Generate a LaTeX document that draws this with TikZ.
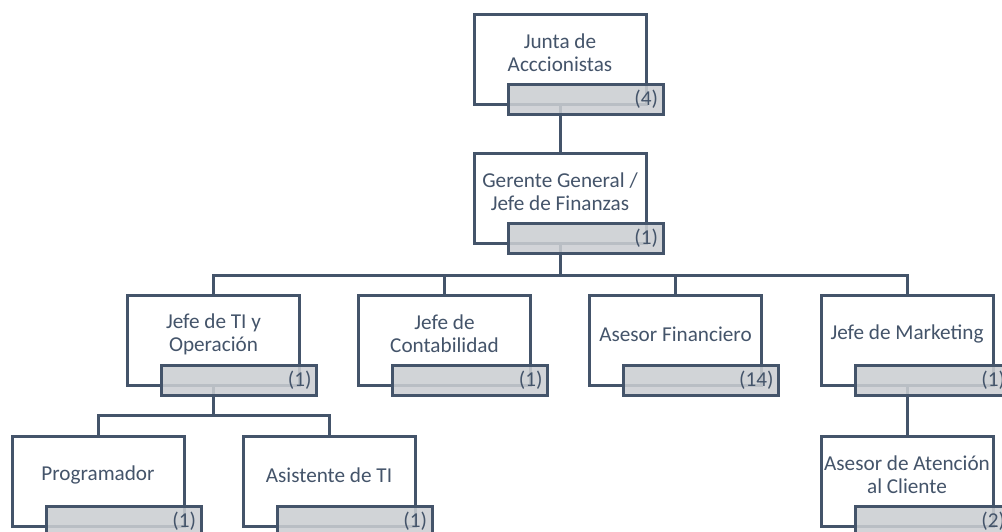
\documentclass[tikz,border=0pt]{standalone}
\usepackage{fontspec}
\setmainfont{Carlito}
\usetikzlibrary{calc}
\definecolor{ink}{HTML}{44546A}
\definecolor{barfill}{HTML}{CBCED2}
\pgfdeclarelayer{front}
\pgfsetlayers{main,front}
\tikzset{
  orgbox/.style={draw=ink, line width=3pt, fill=white, minimum width=172pt,
    minimum height=90pt, inner sep=0pt},
  orgtext/.style={text=ink, align=center, inner sep=0pt,
    font=\fontsize{21.2}{23}\selectfont},
  countbar/.style={draw=ink, line width=3pt, fill=barfill, fill opacity=0.87,
    text opacity=1, draw opacity=1, text=ink, minimum width=155pt,
    minimum height=30pt, inner ysep=0pt, inner xsep=5pt, text width=145pt,
    align=right, font=\fontsize{21.2}{23}\selectfont},
  link/.style={draw=ink, line width=3pt},
}
% one position: box, its title and the count bar laid over its lower edge
\newcommand\orgunit[5]{%
  \node[orgbox] (#1) at (#2,#3+45) {};
  \node[orgtext] (#1-t) at (#2,#3+39) {#4};
  \begin{pgfonlayer}{front}
    \node[countbar] (#1-b) at (#2+25.5,#3+85) {#5};
  \end{pgfonlayer}
}
\begin{document}
\begin{tikzpicture}[x=1pt, y=-1pt]
  \useasboundingbox (0,0) rectangle (1002,531);

  \orgunit{junta}{560}{14}{Junta de\\Acccionistas}{(4)}
  \orgunit{gerente}{560}{153}{Gerente General /\\Jefe de Finanzas}{(1)}
  \orgunit{ti}{213.5}{295}{Jefe de TI y\\Operación}{(1)}
  \orgunit{conta}{444.5}{295}{Jefe de\\Contabilidad}{(1)}
  \orgunit{asesor}{675.5}{295}{Asesor Financiero}{(14)}
  \orgunit{mkt}{907}{295}{Jefe de Marketing}{(1)}
  \orgunit{prog}{98}{436}{Programador}{(1)}
  \orgunit{asist}{329}{436}{Asistente de TI}{(1)}
  \orgunit{atencion}{907}{436}{Asesor de Atención\\al Cliente}{(2)}

  % reporting lines
  \draw[link] (junta.south) -- (gerente.north);
  \foreach \c in {ti,conta,asesor,mkt}
    \draw[link] (gerente.south) -- ++(0,31) -| (\c.north);
  \foreach \c in {prog,asist}
    \draw[link] (ti.south) -- ++(0,29) -| (\c.north);
  \draw[link] (mkt.south) -- (atencion.north);
\end{tikzpicture}
\end{document}
